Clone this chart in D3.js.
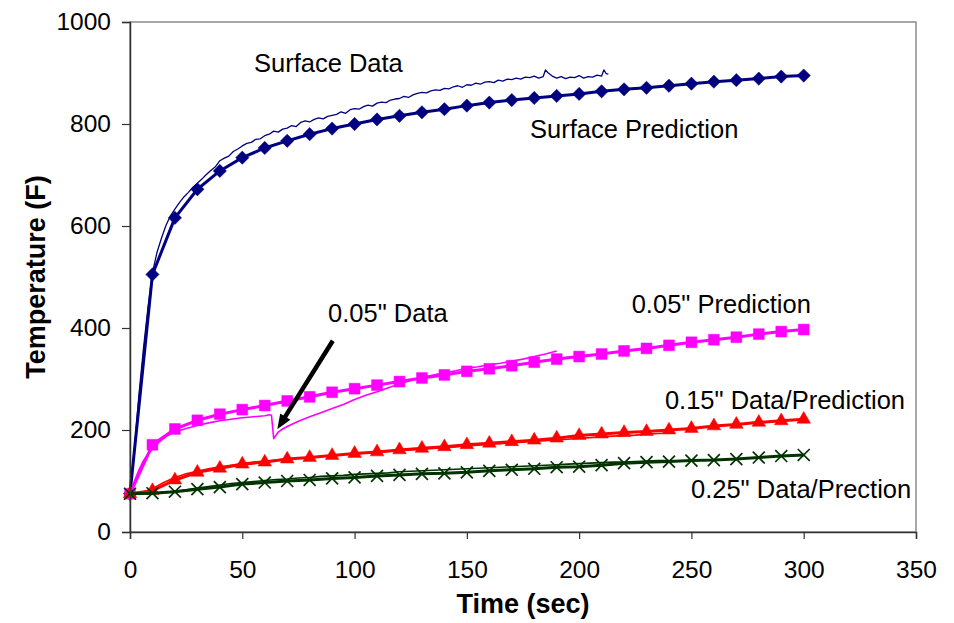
<!DOCTYPE html>
<html>
<head>
<meta charset="utf-8">
<script src="https://cdn.jsdelivr.net/npm/d3@7/dist/d3.min.js"></script>
<style>
  html, body { margin: 0; padding: 0; background: #fff; }
  svg { display: block; font-family: "Liberation Sans", Arial, Helvetica, sans-serif; }
</style>
</head>
<body>
<svg id="chart" width="954" height="623"></svg>
<script>
// Model predictions, sampled every 10 s
const predTime = [0,10,20,30,40,50,60,70,80,90,100,110,120,130,140,150,160,170,180,190,200,210,220,230,240,250,260,270,280,290,300];
const surfacePred = [75,505,616,672,708,734,753,767,780,791,800,809,816,823,829,836,842,847,851,855,859,864,868,871,875,879,883,886,889,893,895];
const pred005 = [75,171,202,219,231,240,248,257,265,274,281,288,295,302,308,315,320,326,333,339,344,349,355,360,366,372,377,382,388,393,397];
const pred015 = [75,81,102,117,125,133,137,143,146,150,154,157,161,164,167,171,174,177,180,184,189,192,195,197,200,203,208,211,215,218,221];
const pred025 = [75,76,79,84,88,94,97,100,102,105,107,110,112,114,115,117,120,122,124,127,128,131,135,137,138,140,141,143,146,149,151];

// Measured thermocouple data
const surfaceDataTime = [0,2,4,6,8,10,12,14,16,18,20,22,24,26,28,30,32,34,36,38,40,42,44,46,48,50,52,54,56,58,60,62,64,66,68,70,72,74,76,78,80,82,84,86,88,90,92,94,96,98,100,102,104,106,108,110,112,114,116,118,120,122,124,126,128,130,132,134,136,138,140,142,144,146,148,150,152,154,156,158,160,162,164,166,168,170,172,174,176,178,180,182,184,185,186,188,190,192,194,196,198,200,202,204,206,208,210,211,212,213];
const surfaceDataTemp = [
  75,165,270,360,440,508,548,576,601,620,
  633,646,657,666,676,684,692,701,709,716,
  728,733,737,746,751,757,762,764,770,771,
  777,780,786,784,790,792,797,795,803,806,
  804,809,812,810,815,817,819,824,821,828,
  830,829,834,837,835,841,843,842,847,849,
  850,854,852,857,860,862,861,865,867,866,
  870,869,873,875,872,877,876,880,878,882,
  883,881,886,884,888,887,890,888,892,891,
  894,890,893,906,901,894,890,893,889,892,
  891,895,890,893,892,896,894,906,899,898];

const data005Time = [0,2,4,6,8,10,12,14,16,18,20,25,30,35,40,45,50,55,60,62,63,64,66,68,70,75,80,85,90,95,100,105,110,115,120,125,130,135,140,145,150,155,160,165,170,175,180,185,190];
const data005Temp = [75,100,122,140,153,163,172,180,187,192,196,203,209,214,218,221,224,226,228,230,229,183,196,202,207,217,226,234,242,250,260,268,275,283,290,297,303,308,312,316,321,324,328,331,335,339,344,349,355];

const data015Time = [0,5,10,15,20,25,30,35,40,45,50,55,60,65,70,75,80,85,90,95,100,105,110,115,120,125,130,135,140,145,150,155,160,165,170,175,180,185,190,195,200,205,210,215,220,225,230,235,240];
const data015Temp = [75,77,85,97,107,114,119,124,128,131,134,137,139,141,143,145,146,148,150,152,153,155,156,158,160,161,163,164,166,167,169,170,172,173,175,176,178,179,181,182,184,185,187,188,189,190,192,193,194];

const data025Time = [0,5,10,15,20,25,30,35,40,45,50,55,60,65,70,75,80,85,90,95,100,105,110,115,120,125,130,135,140,145,150,155,160,165,170,175,180,185,190,195,200,205,210,215,220,225,230,235,240];
const data025Temp = [75,75,76,78,80,83,86,89,92,95,97,99,101,103,104,106,107,109,110,111,113,114,115,116,118,119,120,121,122,123,124,125,126,127,128,129,130,131,132,133,134,135,136,137,137,138,139,140,140];

const xTicks = [0,50,100,150,200,250,300,350];
const yTicks = [0,200,400,600,800,1000];

const svg = d3.select("#chart");
const plot = { left: 130, right: 916, top: 22, bottom: 532 };

const x = d3.scaleLinear().domain([0, 350]).range([plot.left, plot.right]);
const y = d3.scaleLinear().domain([0, 1000]).range([plot.bottom, plot.top]);

const NAVY = "#000080", MAGENTA = "#ff00ff", RED = "#ff0000", GREEN = "#003300";

// Plot area frame (top/right edges)
svg.append("rect")
  .attr("x", plot.left).attr("y", plot.top)
  .attr("width", plot.right - plot.left).attr("height", plot.bottom - plot.top)
  .attr("fill", "none").attr("stroke", "#8c8c8c").attr("stroke-width", 1.5);

const line = d3.line().x(d => x(d[0])).y(d => y(d[1]));
const zip = (ts, vs) => ts.map((t, i) => [t, vs[i]]);

const g = svg.append("g");

// Thin measured-data traces
function dataTrace(ts, vs, color, width) {
  g.append("path").datum(zip(ts, vs))
    .attr("d", line).attr("fill", "none")
    .attr("stroke", color).attr("stroke-width", width)
    .attr("stroke-linejoin", "round");
}
dataTrace(surfaceDataTime, surfaceDataTemp, NAVY, 1.3);
dataTrace(data005Time, data005Temp, MAGENTA, 1.6);
dataTrace(data015Time, data015Temp, RED, 1.6);
dataTrace(data025Time, data025Temp, GREEN, 1.6);

// Prediction lines with markers
function predSeries(vs, color, symbolType, size, opts) {
  const pts = zip(predTime, vs);
  g.append("path").datum(pts)
    .attr("d", line).attr("fill", "none")
    .attr("stroke", color).attr("stroke-width", 3)
    .attr("stroke-linejoin", "round");
  const sym = d3.symbol().type(symbolType).size(size);
  g.append("g").selectAll("path").data(pts).join("path")
    .attr("d", sym)
    .attr("transform", d => `translate(${x(d[0])},${y(d[1])})${opts.rotate ? " rotate(45)" : ""}`)
    .attr("fill", opts.stroke ? "none" : color)
    .attr("stroke", color)
    .attr("stroke-width", opts.stroke ? 1.7 : 0.5);
}
predSeries(surfacePred, NAVY, d3.symbolSquare, 88, { rotate: true });
predSeries(pred005, MAGENTA, d3.symbolSquare, 118, {});
predSeries(pred015, RED, d3.symbolTriangle, 80, {});
predSeries(pred025, GREEN, d3.symbolX, 95, { stroke: true });

// Axes
const yAxis = d3.axisLeft(y).tickValues(yTicks).tickSize(8).tickPadding(11).tickFormat(d3.format("d"));
const xAxis = d3.axisBottom(x).tickValues(xTicks).tickSize(7).tickPadding(22).tickFormat(d3.format("d"));

const ya = svg.append("g").attr("transform", `translate(${plot.left},0)`).call(yAxis);
const xa = svg.append("g").attr("transform", `translate(0,${plot.bottom})`).call(xAxis);
[ya, xa].forEach(a => {
  a.select(".domain").attr("stroke", "#333").attr("stroke-width", 1.5);
  a.selectAll(".tick line").attr("stroke", "#333").attr("stroke-width", 1.2);
  a.selectAll(".tick text").attr("fill", "#000").style("font-size", "24.5px")
    .style("font-family", '"Liberation Sans", Arial, sans-serif');
});

// Axis titles
svg.append("text")
  .attr("x", (plot.left + plot.right) / 2).attr("y", 613)
  .attr("text-anchor", "middle")
  .style("font-size", "27px").style("font-weight", "bold")
  .text("Time (sec)");
svg.append("text")
  .attr("transform", `translate(45,${(plot.top + plot.bottom) / 2}) rotate(-90)`)
  .attr("text-anchor", "middle")
  .style("font-size", "27px").style("font-weight", "bold")
  .text("Temperature (F)");

// Series labels, anchored in data space
const labels = [
  { t: 55.2, v: 902, text: "Surface Data" },
  { t: 178.1, v: 772.5, text: "Surface Prediction" },
  { t: 88.2, v: 412.4, text: "0.05\" Data" },
  { t: 223.4, v: 429.4, text: "0.05\" Prediction" },
  { t: 238.2, v: 241.2, text: "0.15\" Data/Prediction" },
  { t: 249.8, v: 66.7, text: "0.25\" Data/Prection" }
];
svg.append("g").selectAll("text").data(labels).join("text")
  .attr("x", d => x(d.t)).attr("y", d => y(d.v))
  .style("font-size", "25.5px").attr("fill", "#000")
  .text(d => d.text);

// Arrow pointing at the 0.05" data dip
const from = [x(90.3), y(375)], to = [x(65.6), y(201.4)];
const ang = Math.atan2(to[1] - from[1], to[0] - from[0]);
const headLen = 15, headW = 6;
const base = [to[0] - headLen * Math.cos(ang), to[1] - headLen * Math.sin(ang)];
svg.append("line")
  .attr("x1", from[0]).attr("y1", from[1])
  .attr("x2", base[0] + 3 * Math.cos(ang)).attr("y2", base[1] + 3 * Math.sin(ang))
  .attr("stroke", "#000").attr("stroke-width", 4.5);
const px = -Math.sin(ang), py = Math.cos(ang);
svg.append("path")
  .attr("d", `M${to[0]},${to[1]} L${base[0] + headW * px},${base[1] + headW * py} L${base[0] - headW * px},${base[1] - headW * py} Z`)
  .attr("fill", "#000");
</script>
</body>
</html>
